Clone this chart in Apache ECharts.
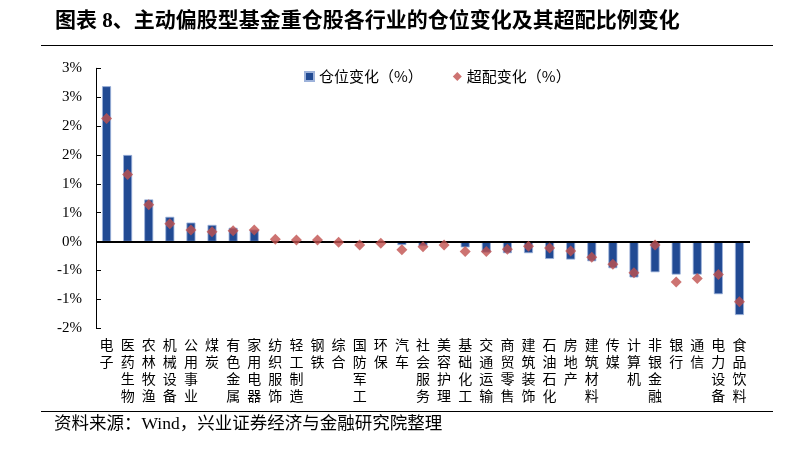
<!DOCTYPE html>
<html><head><meta charset="utf-8">
<script src="https://cdn.jsdelivr.net/npm/echarts@6/dist/echarts.min.js"></script>
<style>html,body{margin:0;padding:0;background:#fff}#c{width:801px;height:456px}</style>
</head><body><div id="c"></div>
<script>
const categories = ['电子','医药生物','农林牧渔','机械设备','公用事业','煤炭','有色金属','家用电器','纺织服饰','轻工制造','钢铁','综合','国防军工','环保','汽车','社会服务','美容护理','基础化工','交通运输','商贸零售','建筑装饰','石油石化','房地产','建筑材料','传媒','计算机','非银金融','银行','通信','电力设备','食品饮料'];
const positionChange = [2.69, 1.50, 0.73, 0.43, 0.33, 0.29, 0.24, 0.21, 0.01, 0.01, 0.01, 0.00, -0.01, -0.01, -0.06, -0.08, -0.02, -0.10, -0.19, -0.20, -0.20, -0.30, -0.31, -0.34, -0.46, -0.62, -0.53, -0.57, -0.57, -0.91, -1.27];
const overweightChange = [2.13, 1.16, 0.64, 0.31, 0.20, 0.17, 0.19, 0.20, 0.04, 0.03, 0.03, -0.01, -0.06, -0.03, -0.14, -0.09, -0.06, -0.17, -0.17, -0.13, -0.08, -0.11, -0.16, -0.27, -0.39, -0.54, -0.06, -0.70, -0.64, -0.57, -1.04];
const yMin = -1.5, yMax = 3, yStep = 0.5;
const yTickLabels = ['-2%','-1%','-1%','0%','1%','1%','2%','2%','3%','3%'];
const seriesNames = ['仓位变化（%）','超配变化（%）'];
const titleText = '图表 8、主动偏股型基金重仓股各行业的仓位变化及其超配比例变化';
const sourceText = '资料来源：Wind，兴业证券经济与金融研究院整理';

const serif = 'Liberation Serif, "Noto Sans CJK SC", serif';
const cjk = '"Noto Sans CJK SC", sans-serif';
const chart = echarts.init(document.getElementById('c'));
chart.setOption({
  animation: false,
  backgroundColor: '#fff',
  grid: { left: 96, right: 51, top: 68.3, bottom: 127.7 },
  legend: {
    left: 299, top: 64, itemGap: 30, itemWidth: 9, itemHeight: 9,
    textStyle: { fontSize: 15, fontFamily: cjk, color: '#000' },
    data: [
      { name: seriesNames[0], icon: 'rect' },
      { name: seriesNames[1], icon: 'diamond' }
    ]
  },
  graphic: [
    { type: 'text', left: 55, top: 11, style: { text: titleText, fontSize: 21, fontWeight: 'bold', fontFamily: serif, fill: '#000' } },
    { type: 'line', shape: { x1: 41, y1: 45.5, x2: 773, y2: 45.5 }, style: { stroke: '#000', lineWidth: 1 } },
    { type: 'line', shape: { x1: 41, y1: 411.5, x2: 773, y2: 411.5 }, style: { stroke: '#000', lineWidth: 1 } },
    { type: 'text', left: 54, top: 416, style: { text: sourceText, fontSize: 17.5, fontFamily: serif, fill: '#000' } }
  ],
  xAxis: {
    type: 'category', data: categories,
    axisLine: { show: false }, axisTick: { show: false },
    axisLabel: {
      interval: 0, margin: 8, fontSize: 14, lineHeight: 17, color: '#000', fontFamily: cjk,
      formatter: v => v.split('').join('\n')
    }
  },
  yAxis: {
    type: 'value', min: yMin, max: yMax, interval: yStep,
    axisLine: { show: true, lineStyle: { color: '#000', width: 1 } },
    axisTick: { show: true, inside: true, length: 5, lineStyle: { color: '#000' } },
    splitLine: { show: false },
    axisLabel: {
      margin: 14, fontSize: 15, color: '#000', fontFamily: serif,
      formatter: v => yTickLabels[Math.round((v - yMin) / yStep)]
    }
  },
  series: [
    {
      name: seriesNames[0], type: 'bar', data: positionChange, barWidth: 9,
      itemStyle: { color: '#214A93', borderColor: '#9DB2DA', borderWidth: 0.8 },
      markLine: {
        silent: true, symbol: 'none', label: { show: false },
        lineStyle: { color: '#000', width: 2, type: 'solid' },
        data: [{ yAxis: 0 }]
      }
    },
    {
      name: seriesNames[1], type: 'scatter', data: overweightChange, symbol: 'diamond', symbolSize: 11,
      itemStyle: { color: '#C0504D' }, z: 5
    }
  ]
});
</script></body></html>
